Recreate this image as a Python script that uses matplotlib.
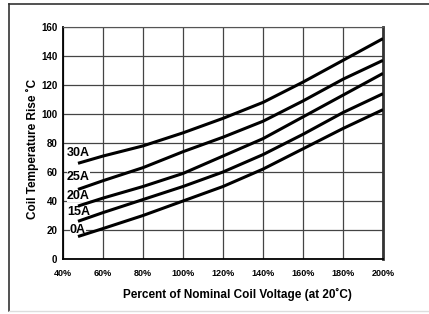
import matplotlib
matplotlib.use('Agg')
import matplotlib.pyplot as plt
from matplotlib.lines import Line2D

plt.rcParams['font.family'] = ['Liberation Sans', 'DejaVu Sans']
plt.rcParams['font.weight'] = 'bold'

# Percent of nominal coil voltage
voltage = [47.5, 60, 80, 100, 120, 140, 160, 180, 200]

# Coil temperature rise (deg C) per current
rise_30a = [66, 71, 78, 87, 97, 108, 122, 137, 152]
rise_25a = [48, 54, 63, 74, 84, 95, 109, 124, 137]
rise_20a = [36.5, 42, 50, 59, 71, 83, 98, 113, 128]
rise_15a = [26, 32, 41, 50, 60, 72, 86, 101, 114]
rise_0a = [15.5, 21, 30, 40, 50, 62, 76, 90, 103]

curves = [rise_30a, rise_25a, rise_20a, rise_15a, rise_0a]
labels = ['30A', '25A', '20A', '15A', '0A']
label_x = [42, 42, 42, 42, 43.5]
label_y = [73, 56.8, 43.4, 32.6, 20]

xticks = [40, 60, 80, 100, 120, 140, 160, 180, 200]
yticks = [0, 20, 40, 60, 80, 100, 120, 140, 160]

fig = plt.figure(figsize=(4.29, 3.14), dpi=100)
ax = fig.add_axes([63/429, 55/314, 320/429, 232/314])

for y in curves:
    ax.plot(voltage, y, color='black', lw=2.2, solid_capstyle='butt', zorder=3)

for txt, lx, ly in zip(labels, label_x, label_y):
    ax.text(lx, ly, txt, fontsize=9, fontweight='bold', ha='left', va='center',
            bbox=dict(facecolor='white', edgecolor='none', pad=0.3), zorder=2.5)

ax.set_xlim(40, 200)
ax.set_ylim(0, 160)
ax.set_xticks(xticks)
ax.set_xticklabels([f'{v}%' for v in xticks])
ax.set_yticks(yticks)
ax.tick_params(length=0, pad=4)
ax.tick_params(axis='x', pad=7, labelsize=6.5)
ax.tick_params(axis='y', labelsize=7)
for lab in ax.get_xticklabels() + ax.get_yticklabels():
    lab.set_fontweight('bold')

ax.grid(True, color='#444444', lw=0.9)
ax.set_axisbelow(True)
for side in ['left', 'bottom']:
    ax.spines[side].set_linewidth(1.3)
ax.spines['right'].set_linewidth(2.0)
ax.spines['right'].set_color('#333333')
ax.spines['top'].set_color('#555555')

fig.text(237/429, 1 - 294/314, 'Percent of Nominal Coil Voltage (at 20˚C)',
         ha='center', va='center', fontsize=8.5, fontweight='bold')
fig.text(32/429, 1 - 149/314, 'Coil Temperature Rise ˚C', rotation=90,
         ha='center', va='center', fontsize=8.5, fontweight='bold')

# outer frame
fig.add_artist(Line2D([9/429, 1], [1 - 4/314, 1 - 4/314], transform=fig.transFigure,
                      color='#333333', lw=1.2))
fig.add_artist(Line2D([9/429, 9/429], [1 - 4/314, 1 - 311/314], transform=fig.transFigure,
                      color='#333333', lw=1.2))
fig.add_artist(Line2D([9/429, 1], [1 - 311/314, 1 - 311/314], transform=fig.transFigure,
                      color='#dddddd', lw=1.0))

fig.savefig('out.png', dpi=100)
